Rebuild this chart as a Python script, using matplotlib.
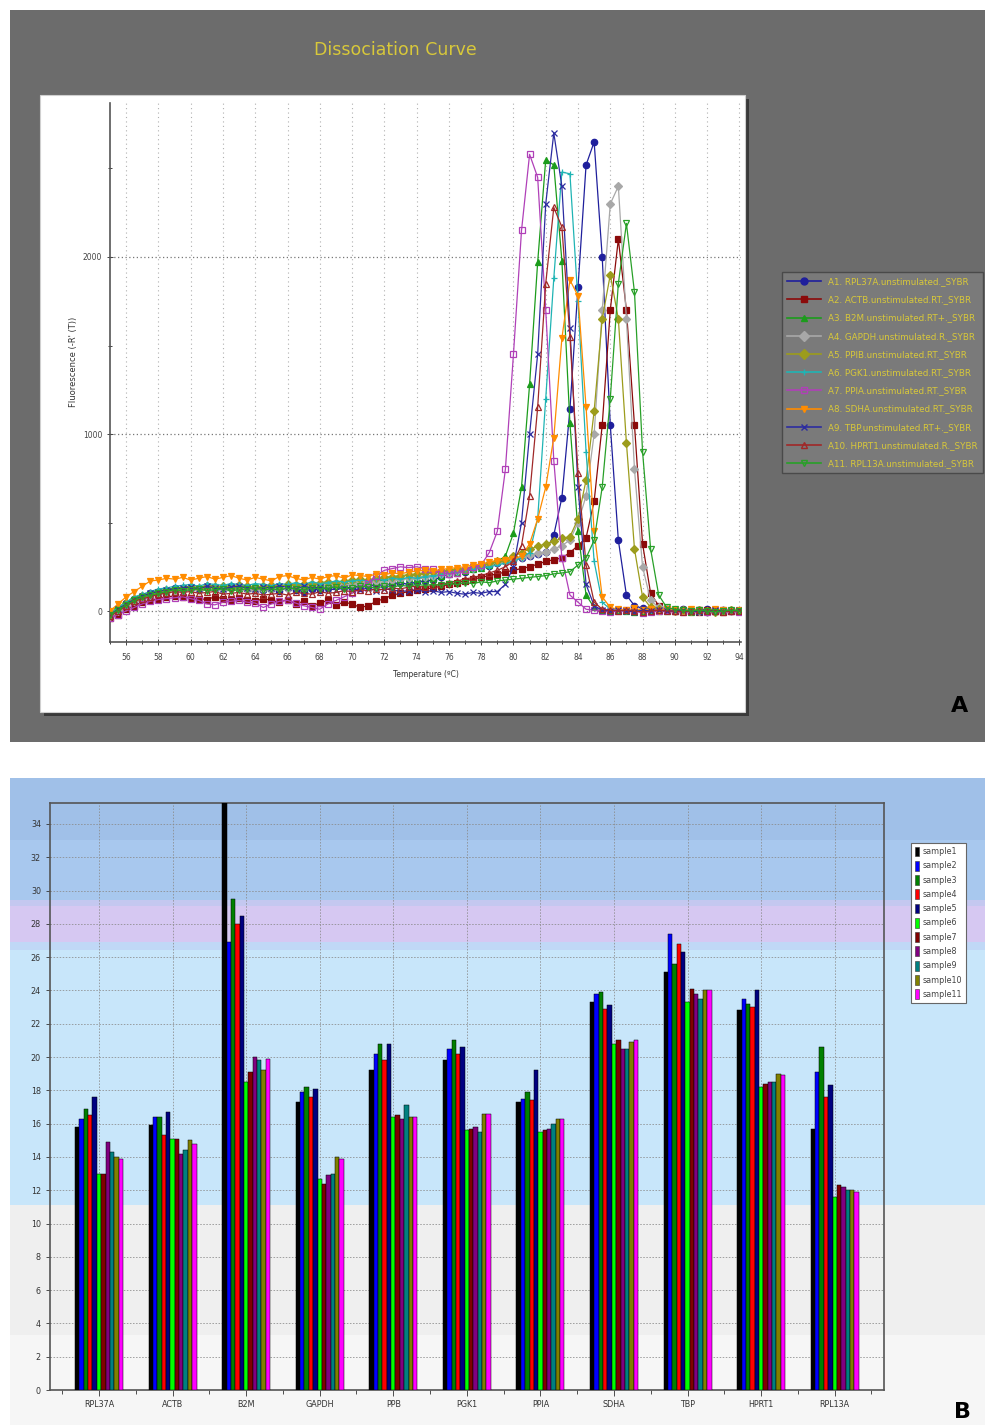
import matplotlib
matplotlib.use("Agg")
import matplotlib.pyplot as plt
from matplotlib.patches import Rectangle, Patch
from matplotlib.lines import Line2D
import numpy as np

NARROW = ['Liberation Sans Narrow', 'DejaVu Sans Condensed', 'DejaVu Sans']

# ---------------- Panel A data (dissociation curves) ----------------
temperature = [55.0, 55.5, 56.0, 56.5, 57.0, 57.5, 58.0, 58.5, 59.0, 59.5,
               60.0, 60.5, 61.0, 61.5, 62.0, 62.5, 63.0, 63.5, 64.0, 64.5,
               65.0, 65.5, 66.0, 66.5, 67.0, 67.5, 68.0, 68.5, 69.0, 69.5,
               70.0, 70.5, 71.0, 71.5, 72.0, 72.5, 73.0, 73.5, 74.0, 74.5,
               75.0, 75.5, 76.0, 76.5, 77.0, 77.5, 78.0, 78.5, 79.0, 79.5,
               80.0, 80.5, 81.0, 81.5, 82.0, 82.5, 83.0, 83.5, 84.0, 84.5,
               85.0, 85.5, 86.0, 86.5, 87.0, 87.5, 88.0, 88.5, 89.0, 89.5,
               90.0, 90.5, 91.0, 91.5, 92.0, 92.5, 93.0, 93.5, 94.0]

rpl37a_f = [-20, 10, 45, 70, 85, 100, 110, 120, 130, 125, 135, 130, 140, 135, 130, 140, 135, 125, 130, 120,
            125, 115, 130, 120, 110, 125, 120, 130, 140, 135, 130, 145, 140, 150, 145, 155, 160, 150, 165, 170,
            175, 190, 210, 230, 220, 240, 250, 255, 270, 280, 290, 300, 310, 320, 335, 430, 640, 1140, 1830, 2520,
            2650, 2000, 1050, 400, 90, 30, 15, 10, 5, 10, 5, 10, 0, 5, 10, 5, 0, 5, 0]
actb_f = [-40, -20, 10, 30, 50, 60, 70, 80, 85, 80, 75, 70, 65, 80, 70, 60, 75, 65, 55, 70,
          60, 50, 65, 40, 55, 30, 45, 60, 35, 50, 40, 20, 30, 55, 70, 90, 100, 110, 120, 125,
          130, 140, 150, 160, 170, 180, 190, 200, 210, 220, 230, 240, 250, 265, 280, 290, 300, 330, 370, 414,
          620, 1050, 1700, 2100, 1700, 1050, 380, 100, 30, 10, 0, 5, 0, -5, 5, 0, -5, 0, 0]
b2m_f = [-10, 20, 50, 75, 90, 100, 115, 120, 130, 135, 140, 130, 145, 140, 135, 145, 130, 140, 135, 130,
         140, 135, 150, 140, 130, 145, 150, 140, 155, 150, 160, 165, 155, 170, 175, 170, 180, 185, 180, 190,
         195, 200, 210, 215, 225, 235, 245, 260, 280, 310, 440, 700, 1280, 1970, 2550, 2520, 1980, 1060, 450, 90,
         20, 5, 0, 5, 0, -5, 0, 5, 0, 0, 5, 0, -5, 0, 5, 0, 0, 5, 0]
gapdh_f = [-30, 0, 30, 55, 75, 90, 100, 110, 115, 120, 125, 120, 130, 125, 120, 125, 130, 120, 115, 125,
           120, 130, 125, 135, 130, 140, 135, 145, 150, 145, 155, 160, 165, 170, 160, 175, 180, 185, 190, 195,
           200, 210, 215, 225, 235, 245, 255, 265, 275, 285, 295, 305, 315, 325, 335, 350, 370, 400, 500, 650,
           1000, 1700, 2300, 2400, 1650, 800, 250, 60, 20, 10, 5, 0, 5, 0, -5, 0, 5, 0, 0]
ppib_f = [-20, 15, 45, 70, 85, 95, 110, 120, 125, 130, 135, 130, 140, 135, 140, 130, 145, 140, 135, 140,
          145, 140, 150, 145, 155, 150, 160, 165, 160, 170, 175, 180, 175, 185, 190, 195, 200, 205, 210, 215,
          220, 225, 230, 235, 240, 250, 260, 270, 280, 290, 310, 330, 350, 365, 380, 395, 410, 420, 520, 740,
          1130, 1650, 1900, 1650, 950, 350, 80, 20, 10, 5, 0, 5, 0, 5, 0, -5, 0, 5, 0]
pgk1_f = [-10, 20, 50, 80, 95, 110, 125, 130, 140, 145, 150, 140, 155, 150, 145, 155, 150, 145, 155, 150,
          145, 155, 150, 160, 150, 165, 155, 160, 170, 165, 170, 175, 170, 180, 175, 185, 180, 190, 185, 195,
          200, 205, 215, 220, 230, 240, 245, 250, 260, 270, 280, 300, 330, 520, 1200, 1880, 2480, 2470, 1750, 900,
          280, 50, 10, 5, 0, 5, 0, -5, 0, 5, 0, 0, 5, 0, -5, 0, 5, 0, 0]
ppia_f = [-40, -20, 0, 20, 40, 55, 65, 70, 75, 80, 70, 60, 40, 35, 50, 55, 60, 50, 45, 20,
          40, 55, 60, 45, 30, 20, 10, 40, 60, 80, 100, 130, 160, 200, 230, 240, 250, 245, 250, 240,
          235, 220, 210, 215, 230, 250, 260, 330, 450, 800, 1450, 2150, 2580, 2450, 1700, 850, 300, 90, 50, 10,
          5, 0, -5, 0, 5, 0, -10, -5, 0, 5, 0, -5, 0, 5, -5, 0, 5, 0, -5]
sdha_f = [0, 40, 80, 110, 140, 170, 175, 185, 180, 190, 175, 185, 195, 180, 190, 200, 185, 175, 190, 180,
          170, 195, 200, 185, 175, 190, 180, 195, 200, 185, 205, 200, 195, 210, 205, 215, 210, 220, 225, 230,
          225, 235, 240, 245, 250, 260, 265, 275, 285, 290, 295, 310, 380, 520, 700, 980, 1540, 1870, 1780, 1150,
          450, 80, 20, 10, 5, 15, 5, 10, 0, 10, 5, 0, 10, 5, 0, 10, 5, 0, 5]
tbp_f = [-20, 10, 40, 65, 85, 100, 110, 120, 125, 130, 135, 125, 140, 130, 125, 135, 140, 130, 125, 135,
         130, 140, 135, 125, 140, 130, 135, 125, 120, 130, 125, 120, 130, 115, 125, 120, 110, 115, 120, 110,
         115, 105, 110, 100, 95, 105, 100, 110, 110, 150, 250, 500, 1000, 1450, 2300, 2700, 2400, 1600, 700, 150,
         30, 5, 0, 5, 0, -5, 5, 0, 5, 0, 0, 5, 0, -5, 0, 5, 0, 0, 5]
hprt1_f = [-30, 0, 30, 55, 70, 80, 95, 100, 110, 105, 110, 100, 105, 110, 95, 100, 105, 95, 100, 90,
           95, 100, 90, 105, 100, 95, 110, 100, 105, 115, 110, 120, 115, 125, 120, 130, 125, 135, 140, 135,
           145, 150, 160, 170, 180, 190, 200, 215, 230, 250, 280, 370, 650, 1150, 1850, 2280, 2170, 1550, 780, 260,
           50, 10, 5, 0, 5, 0, -5, 0, 5, 0, 0, -5, 0, 5, 0, 0, -5, 0, 0]
rpl13a_f = [-20, 5, 35, 60, 80, 90, 100, 110, 120, 115, 120, 125, 115, 120, 125, 115, 120, 125, 130, 120,
            125, 120, 130, 125, 120, 130, 125, 130, 135, 125, 130, 140, 135, 130, 140, 135, 145, 140, 150, 145,
            150, 145, 155, 150, 160, 155, 165, 160, 170, 175, 180, 185, 190, 195, 200, 210, 215, 222, 260, 300,
            400, 700, 1200, 1850, 2190, 1800, 900, 350, 90, 20, 10, 5, 0, 5, 0, -5, 0, 5, 0]

curve_labels = ["A1. RPL37A.unstimulated._SYBR", "A2. ACTB.unstimulated.RT._SYBR",
                "A3. B2M.unstimulated.RT+._SYBR", "A4. GAPDH.unstimulated.R._SYBR",
                "A5. PPIB.unstimulated.RT._SYBR", "A6. PGK1.unstimulated.RT._SYBR",
                "A7. PPIA.unstimulated.RT._SYBR", "A8. SDHA.unstimulated.RT._SYBR",
                "A9. TBP.unstimulated.RT+._SYBR", "A10. HPRT1.unstimulated.R._SYBR",
                "A11. RPL13A.unstimulated._SYBR"]
curve_values = [rpl37a_f, actb_f, b2m_f, gapdh_f, ppib_f, pgk1_f, ppia_f, sdha_f, tbp_f, hprt1_f, rpl13a_f]
curve_colors = ['#1f1f9c', '#8b0a0a', '#1c9c1c', '#a8a8a8', '#9c9c1c', '#1fb4b4',
                '#b040b8', '#ff8c00', '#2c2ca0', '#a02828', '#28a028']
curve_markers = ['o', 's', '^', 'D', 'D', '+', 's', 'v', 'x', '^', 'v']
curve_filled = [True, True, True, True, True, True, False, True, True, False, False]

# ---------------- Panel B data (Ct values) ----------------
genes = ["RPL37A", "ACTB", "B2M", "GAPDH", "PPB", "PGK1", "PPIA", "SDHA", "TBP", "HPRT1", "RPL13A"]
samples = ["sample1", "sample2", "sample3", "sample4", "sample5", "sample6",
           "sample7", "sample8", "sample9", "sample10", "sample11"]
sample_colors = ['#000000', '#0000ff', '#008000', '#ff0000', '#000080', '#00ff00',
                 '#800000', '#800080', '#008080', '#808000', '#ff00ff']
ct_rpl37a = [15.8, 16.3, 16.9, 16.5, 17.6, 13.0, 13.0, 14.9, 14.3, 14.0, 13.9]
ct_actb = [15.9, 16.4, 16.4, 15.3, 16.7, 15.1, 15.1, 14.2, 14.4, 15.0, 14.8]
ct_b2m = [36.0, 26.9, 29.5, 28.0, 28.5, 18.5, 19.1, 20.0, 19.8, 19.2, 19.9]
ct_gapdh = [17.3, 17.9, 18.2, 17.6, 18.1, 12.7, 12.4, 12.9, 13.0, 14.0, 13.9]
ct_ppb = [19.2, 20.2, 20.8, 19.8, 20.8, 16.4, 16.5, 16.3, 17.1, 16.4, 16.4]
ct_pgk1 = [19.8, 20.5, 21.0, 20.2, 20.6, 15.6, 15.7, 15.8, 15.5, 16.6, 16.6]
ct_ppia = [17.3, 17.5, 17.9, 17.4, 19.2, 15.5, 15.6, 15.7, 16.0, 16.3, 16.3]
ct_sdha = [23.3, 23.8, 23.9, 22.9, 23.1, 20.8, 21.0, 20.5, 20.5, 20.9, 21.0]
ct_tbp = [25.1, 27.4, 25.6, 26.8, 26.3, 23.3, 24.1, 23.8, 23.5, 24.0, 24.0]
ct_hprt1 = [22.8, 23.5, 23.2, 23.0, 24.0, 18.2, 18.4, 18.5, 18.5, 19.0, 18.9]
ct_rpl13a = [15.7, 19.1, 20.6, 17.6, 18.3, 11.6, 12.3, 12.2, 12.0, 12.0, 11.9]
ct_table = [ct_rpl37a, ct_actb, ct_b2m, ct_gapdh, ct_ppb, ct_pgk1, ct_ppia,
            ct_sdha, ct_tbp, ct_hprt1, ct_rpl13a]

W, H = 985, 1425
fig = plt.figure(figsize=(W / 100, H / 100), dpi=100)
fig.patch.set_facecolor('white')


def frect(x0, y0, x1, y1, **kw):
    r = Rectangle((x0 / W, 1 - y1 / H), (x1 - x0) / W, (y1 - y0) / H,
                  transform=fig.transFigure, **kw)
    fig.add_artist(r)
    return r


# ================= Panel A =================
frect(10, 10, 985, 742, facecolor='#6c6c6c', edgecolor='none', zorder=0)
frect(44, 99, 749, 716, facecolor='#3a3a3a', edgecolor='none', zorder=1)
frect(40, 95, 745, 712, facecolor='white', edgecolor='#d0d0d0', linewidth=0.8, zorder=2)

fig.text(395 / W, 1 - 50 / H, "Dissociation Curve", color='#d8c83a', fontsize=12.5,
         ha='center', va='center', family=NARROW, zorder=5)

axA = fig.add_axes([110 / W, 1 - 642 / H, 631 / W, 539 / H], zorder=3)
axA.set_facecolor('none')
axA.set_xlim(55, 94.1)
axA.set_ylim(-175, 2870)
axA.set_xticks(np.arange(56, 95, 2))
axA.set_xticks(np.arange(55, 95, 1), minor=True)
axA.set_yticks([0, 1000, 2000])
axA.set_yticks([500, 1500, 2500], minor=True)
axA.tick_params(axis='both', which='both', labelsize=5.5, colors='#444444',
                direction='inout', length=4, width=0.7)
axA.tick_params(axis='both', which='minor', length=3)
axA.tick_params(axis='x', which='major', pad=6)
for lab in axA.get_xticklabels() + axA.get_yticklabels():
    lab.set_family(NARROW)
for s in ['top', 'right']:
    axA.spines[s].set_visible(False)
for s in ['left', 'bottom']:
    axA.spines[s].set_color('#555555')
    axA.spines[s].set_linewidth(1.2)
for xv in np.arange(56, 95, 2):
    axA.axvline(xv, color='#b0b0b0', linestyle=(0, (1, 3)), linewidth=0.8, zorder=0)
for yv in [0, 1000, 2000]:
    axA.axhline(yv, color='#777777', linestyle=(0, (1, 2)), linewidth=0.9, zorder=0)

handles = []
for vals, col, mk, filled, lab in zip(curve_values, curve_colors, curve_markers,
                                      curve_filled, curve_labels):
    mfc = col if filled else 'none'
    ms = 4.6 if mk not in ('D',) else 3.6
    ln, = axA.plot(temperature, vals, color=col, linewidth=0.9, marker=mk,
                   markersize=ms, markerfacecolor=mfc, markeredgecolor=col,
                   markeredgewidth=0.9, label=lab, zorder=3)
    handles.append(Line2D([0], [0], color=col, linewidth=1.2, marker=mk, markersize=5,
                          markerfacecolor=mfc, markeredgecolor=col))

axA.set_xlabel("Temperature (ºC)", fontsize=5.5, color='#333333', family=NARROW, labelpad=6)
axA.set_ylabel("Fluorescence (-R' (T))", fontsize=6, color='#333333', family=NARROW, labelpad=12)
axA.yaxis.set_label_coords(-0.05, 0.52)

legA = fig.legend(handles, curve_labels, loc='upper left',
                  bbox_to_anchor=(782 / W, 1 - 272 / H), borderaxespad=0,
                  labelcolor='#d8c83a', facecolor='#7a7a7a',
                  edgecolor='#4a4a4a', framealpha=1, fancybox=False,
                  handlelength=3.8, handletextpad=0.9, labelspacing=1.05,
                  borderpad=0.6, prop={'family': NARROW, 'size': 6.3})
legA.get_frame().set_linewidth(1.0)
legA.set_zorder(6)

fig.text(960 / W, 1 - 706 / H, "A", fontsize=16, fontweight='bold', color='black',
         ha='center', va='center', zorder=6)

# ================= Panel B =================
bands = [(778, 840, '#a0c0e8'), (840, 900, '#a8c8ee'), (900, 906, '#c4c8f0'),
         (906, 942, '#d6c8f2'), (942, 950, '#c0d8f6'), (950, 1205, '#c8e6fa'),
         (1205, 1335, '#efefef'), (1335, 1425, '#f6f6f6')]
for y0, y1, c in bands:
    frect(10, y0, 985, y1, facecolor=c, edgecolor='none', zorder=0)

axB = fig.add_axes([50 / W, 1 - 1390 / H, 834 / W, 587 / H], zorder=3)
axB.set_facecolor('none')
n_s = len(samples)
bw = 0.0593
xg = np.arange(len(genes))
for i in range(n_s):
    heights = [row[i] for row in ct_table]
    axB.bar(xg + (i - (n_s - 1) / 2) * bw, heights, width=bw, color=sample_colors[i],
            edgecolor='black', linewidth=0.35, zorder=3, label=samples[i])
axB.set_xlim(-0.666, 10.67)
axB.set_ylim(0, 35.26)
axB.set_yticks(np.arange(0, 35, 2))
axB.set_xticks(xg)
axB.set_xticks(np.arange(-0.5, 10.6, 1), minor=True)
axB.set_xticklabels(genes)
axB.tick_params(axis='both', which='both', labelsize=5.8, colors='#333333',
                direction='out', length=3, width=0.6)
axB.tick_params(axis='x', which='major', length=4)
for lab in axB.get_xticklabels() + axB.get_yticklabels():
    lab.set_family(NARROW)
axB.grid(True, which='major', axis='both', color='#8a8a8a', linestyle=(0, (2, 2)),
         linewidth=0.55, zorder=1)
for s in axB.spines.values():
    s.set_color('#555555')
    s.set_linewidth(1.2)

legB = fig.legend([Patch(facecolor=c, edgecolor='#333333', linewidth=0.4) for c in sample_colors],
                  samples, loc='upper left', bbox_to_anchor=(911 / W, 1 - 843 / H),
                  borderaxespad=0, facecolor='white', edgecolor='#666666', framealpha=1,
                  fancybox=False, handlelength=0.5, handleheight=1.5, handletextpad=0.5,
                  labelspacing=0.55, borderpad=0.45, labelcolor='#444444',
                  prop={'family': NARROW, 'size': 5.8})
legB.get_frame().set_linewidth(0.8)
legB.set_zorder(6)

fig.text(962 / W, 1 - 1412 / H, "B", fontsize=16, fontweight='bold', color='black',
         ha='center', va='center', zorder=6)

fig.savefig("out.png", dpi=100)
